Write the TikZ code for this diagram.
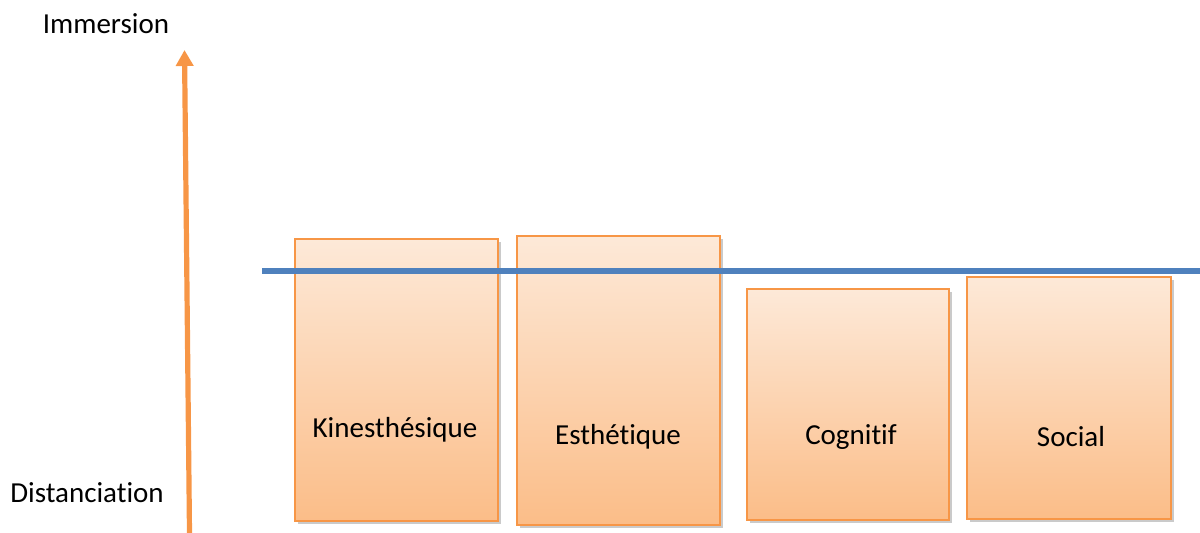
\documentclass[tikz,border=0pt]{standalone}
\usepackage{fontspec}
\setmainfont[RawFeature={-liga}]{Carlito}
\usetikzlibrary{shadows,arrows.meta}
\definecolor{ofrange}{HTML}{F79646}
\definecolor{boxtop}{HTML}{FDE9D8}
\definecolor{boxbot}{HTML}{FBBD88}
\definecolor{lineblue}{HTML}{4F81BD}
\tikzset{
  catbox/.style={draw=ofrange, line width=1.1pt, top color=boxtop, bottom color=boxbot,
    drop shadow={shadow xshift=1.5pt, shadow yshift=-1.5pt, opacity=0.35, fill=black!60}},
  lbl/.style={font=\fontsize{14.5pt}{17pt}\selectfont, text=black, inner sep=0pt}
}
\begin{document}
\begin{tikzpicture}[x=0.5pt,y=-0.5pt]
\useasboundingbox (0,0) rectangle (1200,533);
% boxes
\node[catbox, minimum width=101.5pt, minimum height=141pt, inner sep=0pt, anchor=north west] (k) at (294,238) {};
\node[catbox, minimum width=101.5pt, minimum height=144.5pt, inner sep=0pt, anchor=north west] (e) at (516,235) {};
\node[catbox, minimum width=101pt, minimum height=115.5pt, inner sep=0pt, anchor=north west] (c) at (746,288) {};
\node[catbox, minimum width=102pt, minimum height=121pt, inner sep=0pt, anchor=north west] (s) at (966,276) {};
% labels
\node[lbl] (kl) at (395,430) {Kinesthésique};
\node[lbl] (el) at (618,437) {Esthétique};
\node[lbl] (cl) at (851,437) {Cognitif};
\node[lbl] (sl) at (1071,437) {Social};
% blue line
\coordinate (bl1) at (262,271);
\coordinate (bl2) at (1200,271);
\draw[lineblue, line width=2.6pt] (bl1) -- (bl2);
% axis arrow
\coordinate (a0) at (189.5,533);
\coordinate (a1) at (184.5,50);
\draw[ofrange, line width=2.6pt, -{Triangle[width=8.5pt,length=8pt]}] (a0) -- (a1);
% axis labels
\node[lbl] (imm) at (106,24) {Immersion};
\node[lbl] (dist) at (87,493) {Distanciation};
\end{tikzpicture}
\end{document}
